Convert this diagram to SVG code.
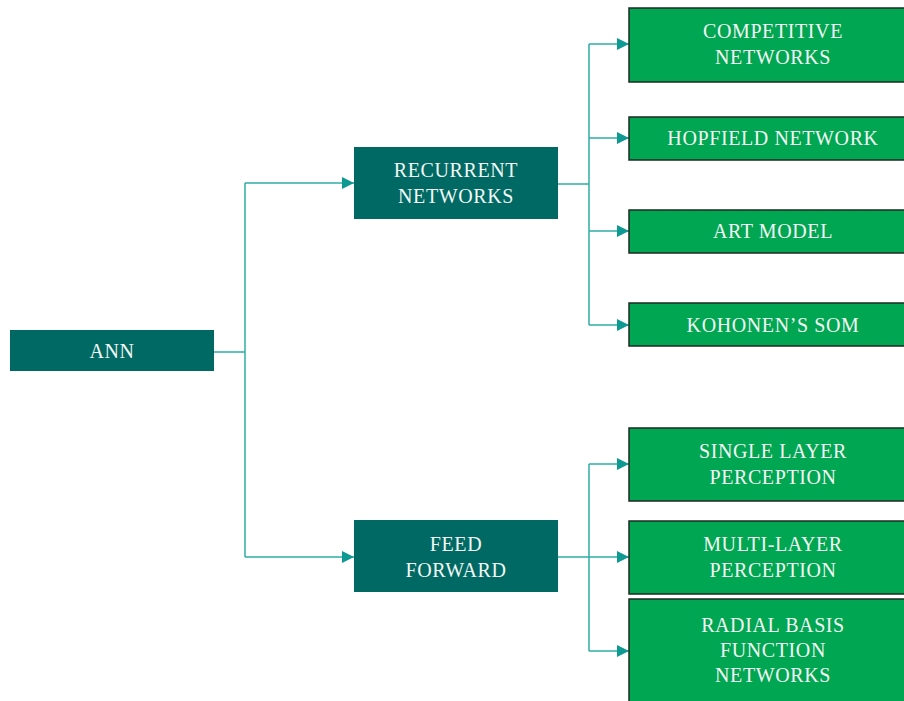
<svg xmlns="http://www.w3.org/2000/svg" width="904" height="701" viewBox="0 0 904 701">
<style>
.dk{fill:#006963}
.gr{fill:#00A651;stroke:#1c2a22;stroke-width:1.5}
.t{font-family:"Liberation Serif",serif;font-size:20px;letter-spacing:0.6px;fill:#f2f7f5;text-anchor:middle}
.c{fill:none;stroke:#2FADA6;stroke-width:1.5}
</style>
<defs>
<marker id="ah" viewBox="0 0 12 12" refX="12" refY="6" markerWidth="12" markerHeight="12" markerUnits="userSpaceOnUse" orient="auto">
<path d="M0,0 L12,6 L0,12 Z" fill="#0E9A93"/>
</marker>
</defs>
<rect width="904" height="701" fill="#ffffff"/>
<g id="connectors">
<path class="c" d="M214,352 H245"/>
<path class="c" d="M245,183 V557"/>
<path class="c" d="M245,183 H354" marker-end="url(#ah)"/>
<path class="c" d="M245,557 H354" marker-end="url(#ah)"/>
<path class="c" d="M558,184 H589"/>
<path class="c" d="M589,44 V325"/>
<path class="c" d="M589,44 H629" marker-end="url(#ah)"/>
<path class="c" d="M589,138 H629" marker-end="url(#ah)"/>
<path class="c" d="M589,231 H629" marker-end="url(#ah)"/>
<path class="c" d="M589,325 H629" marker-end="url(#ah)"/>
<path class="c" d="M558,557 H589"/>
<path class="c" d="M589,464 V651"/>
<path class="c" d="M589,464 H629" marker-end="url(#ah)"/>
<path class="c" d="M589,557 H629" marker-end="url(#ah)"/>
<path class="c" d="M589,651 H629" marker-end="url(#ah)"/>
</g>
<g id="ann">
<rect class="dk" x="10" y="330" width="204" height="41"/>
<text class="t" x="112" y="358">ANN</text>
</g>
<g id="recurrent">
<rect class="dk" x="354" y="147" width="204" height="72"/>
<text class="t" x="456" y="177">RECURRENT</text>
<text class="t" x="456" y="203">NETWORKS</text>
</g>
<g id="feedforward">
<rect class="dk" x="354" y="520" width="204" height="72"/>
<text class="t" x="456" y="551">FEED</text>
<text class="t" x="456" y="577">FORWARD</text>
</g>
<g id="competitive">
<rect class="gr" x="629" y="8" width="280" height="74"/>
<text class="t" x="773" y="38">COMPETITIVE</text>
<text class="t" x="773" y="64">NETWORKS</text>
</g>
<g id="hopfield">
<rect class="gr" x="629" y="117" width="280" height="43"/>
<text class="t" x="773" y="145">HOPFIELD NETWORK</text>
</g>
<g id="art">
<rect class="gr" x="629" y="210" width="280" height="43"/>
<text class="t" x="773" y="238">ART MODEL</text>
</g>
<g id="kohonen">
<rect class="gr" x="629" y="303" width="280" height="43"/>
<text class="t" x="773" y="332">KOHONEN’S SOM</text>
</g>
<g id="single">
<rect class="gr" x="629" y="428" width="280" height="73"/>
<text class="t" x="773" y="458">SINGLE LAYER</text>
<text class="t" x="773" y="484">PERCEPTION</text>
</g>
<g id="multi">
<rect class="gr" x="629" y="521" width="280" height="73"/>
<text class="t" x="773" y="551">MULTI-LAYER</text>
<text class="t" x="773" y="577">PERCEPTION</text>
</g>
<g id="radial">
<rect class="gr" x="629" y="599" width="280" height="110"/>
<text class="t" x="773" y="632">RADIAL BASIS</text>
<text class="t" x="773" y="657">FUNCTION</text>
<text class="t" x="773" y="682">NETWORKS</text>
</g>
</svg>
